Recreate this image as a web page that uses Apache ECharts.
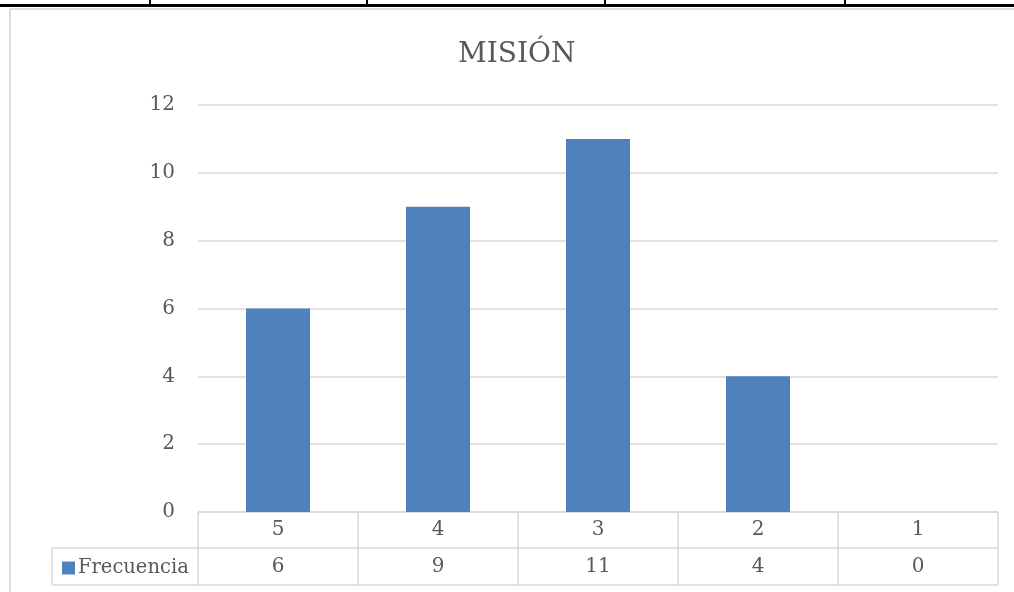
<!DOCTYPE html>
<html>
<head>
<meta charset="utf-8">
<script src="https://cdn.jsdelivr.net/npm/echarts@6/dist/echarts.min.js"></script>
<style>
  html, body { margin: 0; padding: 0; background: #fff; }
  #chart { width: 1014px; height: 592px; }
</style>
</head>
<body>
<div id="chart"></div>
<script>
// Chart data
const title = 'MISIÓN';
const categories = ['5', '4', '3', '2', '1'];
const seriesName = 'Frecuencia';
const frecuencia = [6, 9, 11, 4, 0];
const yTicks = { min: 0, max: 12, interval: 2 };

const FONT = 'DejaVu Serif';
const TEXT = '#595959';
const LINE = '#d9d9d9';
const BAR = '#4f81bd';

const chart = echarts.init(document.getElementById('chart'));

chart.setOption({
  animation: false,
  title: {
    text: title,
    left: 453,
    top: 36,
    textStyle: { fontFamily: FONT, fontSize: 28, fontWeight: 'normal', color: TEXT }
  },
  legend: {
    data: [seriesName],
    left: 57,
    top: 553,
    icon: 'rect',
    itemWidth: 13,
    itemHeight: 13,
    itemGap: 6,
    textStyle: { fontFamily: FONT, fontSize: 19.5, color: TEXT, padding: [0, 0, 0, -2] }
  },
  grid: { left: 198, right: 16, top: 105, bottom: 80 },
  xAxis: [
    {
      type: 'category',
      data: categories,
      position: 'bottom',
      axisLine: { show: true, lineStyle: { color: LINE, width: 1.5 } },
      axisTick: { show: true, length: 73, lineStyle: { color: LINE, width: 1.5 } },
      axisLabel: { fontFamily: FONT, fontSize: 20, color: TEXT, margin: 8 }
    },
    {
      type: 'category',
      data: frecuencia.map(String),
      position: 'bottom',
      offset: 36,
      axisLine: { show: false },
      axisTick: { show: false },
      axisLabel: { fontFamily: FONT, fontSize: 20, color: TEXT, margin: 9 }
    }
  ],
  yAxis: {
    type: 'value',
    min: yTicks.min,
    max: yTicks.max,
    interval: yTicks.interval,
    axisLine: { show: false },
    axisTick: { show: false },
    axisLabel: { fontFamily: FONT, fontSize: 20, color: TEXT, margin: 23, padding: [3, 0, 0, 0] },
    splitLine: { lineStyle: { color: LINE, width: 1.5 } }
  },
  series: [{
    name: seriesName,
    type: 'bar',
    data: frecuencia,
    barWidth: '40%',
    itemStyle: { color: BAR }
  }],
  graphic: [
    // page table border above the chart
    { type: 'rect', shape: { x: 0, y: 4, width: 1014, height: 3 }, style: { fill: '#000' } },
    { type: 'rect', shape: { x: 149, y: 0, width: 2, height: 5 }, style: { fill: '#000' } },
    { type: 'rect', shape: { x: 366, y: 0, width: 2, height: 5 }, style: { fill: '#000' } },
    { type: 'rect', shape: { x: 604, y: 0, width: 2, height: 5 }, style: { fill: '#000' } },
    { type: 'rect', shape: { x: 844, y: 0, width: 2, height: 5 }, style: { fill: '#000' } },
    // chart area frame
    { type: 'line', shape: { x1: 10, y1: 9, x2: 1014, y2: 9 }, style: { stroke: '#d0d0d0', lineWidth: 1.5 } },
    { type: 'line', shape: { x1: 10, y1: 9, x2: 10, y2: 592 }, style: { stroke: '#d0d0d0', lineWidth: 1.5 } },
    // data table rules
    { type: 'line', shape: { x1: 52, y1: 548, x2: 998, y2: 548 }, style: { stroke: LINE, lineWidth: 1.5 } },
    { type: 'line', shape: { x1: 52, y1: 585, x2: 998, y2: 585 }, style: { stroke: LINE, lineWidth: 1.5 } },
    { type: 'line', shape: { x1: 52, y1: 548, x2: 52, y2: 585 }, style: { stroke: LINE, lineWidth: 1.5 } }
  ]
});
</script>
</body>
</html>
